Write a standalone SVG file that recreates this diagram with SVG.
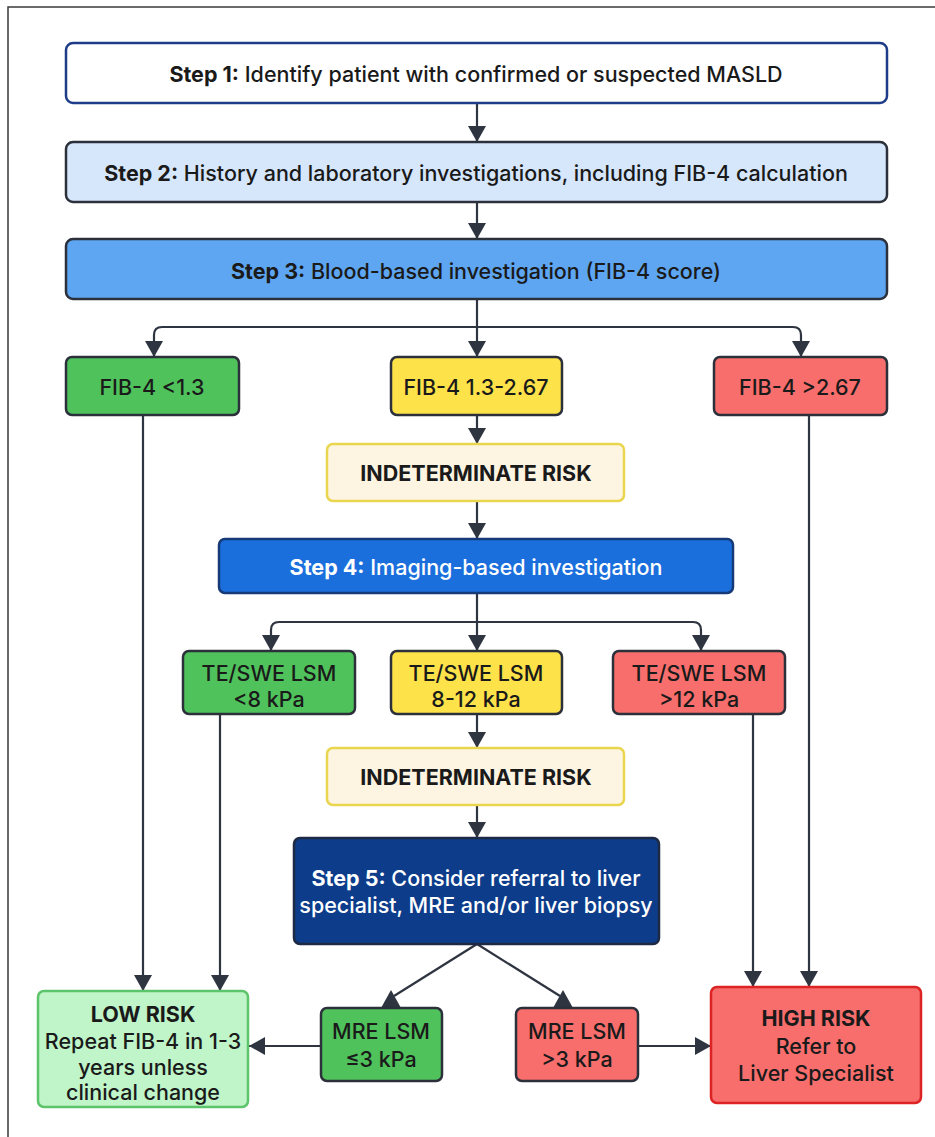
<svg xmlns="http://www.w3.org/2000/svg" width="935" height="1137" viewBox="0 0 935 1137">
<style>
  text { font-family: Inter, "Liberation Sans", Arial, sans-serif; font-size: 21.5px; font-weight: 500; fill: #1a1a1a; text-anchor: middle; dominant-baseline: central; }
  .b { font-weight: 700; }
  .w { fill: #ffffff; }
  .box { stroke: #2b303b; stroke-width: 2.5; }
  .con { fill: none; stroke: #2e3440; stroke-width: 2.2; }
  .head { fill: #2e3440; }
</style>
<defs>
  <marker id="arr" viewBox="0 0 10 10" refX="10" refY="5" markerUnits="userSpaceOnUse" markerWidth="16" markerHeight="18" orient="auto" preserveAspectRatio="none">
    <path d="M0,0 L10,5 L0,10 z" fill="#2e3440"/>
  </marker>
</defs>
<rect width="935" height="1137" fill="#ffffff"/>
<path d="M8,1137 V7 H935" fill="none" stroke="#3a3a3a" stroke-width="1.5"/>

<g id="connectors">
  <path class="con" d="M477,103 V142" marker-end="url(#arr)"/>
  <path class="con" d="M477,202 V239" marker-end="url(#arr)"/>
  <path class="con" d="M477,299 V327"/>
  <path class="con" d="M477,327 H162 Q154,327 154,335 V357" marker-end="url(#arr)"/>
  <path class="con" d="M477,327 V357" marker-end="url(#arr)"/>
  <path class="con" d="M477,327 H793 Q801,327 801,335 V357" marker-end="url(#arr)"/>
  <path class="con" d="M477,415 V444" marker-end="url(#arr)"/>
  <path class="con" d="M477,501 V539" marker-end="url(#arr)"/>
  <path class="con" d="M477,593 V622"/>
  <path class="con" d="M477,622 H279 Q271,622 271,630 V651" marker-end="url(#arr)"/>
  <path class="con" d="M477,622 V651" marker-end="url(#arr)"/>
  <path class="con" d="M477,622 H693 Q701,622 701,630 V651" marker-end="url(#arr)"/>
  <path class="con" d="M477,714 V748" marker-end="url(#arr)"/>
  <path class="con" d="M477,805 V838" marker-end="url(#arr)"/>
  <path class="con" d="M143,415 V991" marker-end="url(#arr)"/>
  <path class="con" d="M220,714 V991" marker-end="url(#arr)"/>
  <path class="con" d="M753,714 V987" marker-end="url(#arr)"/>
  <path class="con" d="M809,415 V987" marker-end="url(#arr)"/>
  <path class="con" d="M477,944 L394,996"/>
  <path class="con" d="M477,944 L560,996"/>
  <polygon class="head" points="391,990 381,1008 401,1008"/>
  <polygon class="head" points="563,990 553,1008 573,1008"/>
  <path class="con" d="M321,1046 H249" marker-end="url(#arr)"/>
  <path class="con" d="M638,1046 H711" marker-end="url(#arr)"/>
</g>

<g id="step1">
  <rect x="66" y="43" width="821" height="60" rx="7" fill="#ffffff" stroke="#1f3c88" stroke-width="2.5"/>
  <text x="476" y="74"><tspan class="b">Step 1:</tspan> Identify patient with confirmed or suspected MASLD</text>
</g>
<g id="step2">
  <rect class="box" x="66" y="142" width="821" height="60" rx="7" fill="#d6e7fc"/>
  <text x="476" y="173"><tspan class="b">Step 2:</tspan> History and laboratory investigations, including FIB-4 calculation</text>
</g>
<g id="step3">
  <rect class="box" x="66" y="239" width="821" height="60" rx="7" fill="#5ea6f2"/>
  <text x="476" y="271"><tspan class="b">Step 3:</tspan> Blood-based investigation (FIB-4 score)</text>
</g>
<g id="fib-low">
  <rect class="box" x="66" y="357" width="173" height="58" rx="6" fill="#4fc25c"/>
  <text x="152" y="387">FIB-4 &lt;1.3</text>
</g>
<g id="fib-mid">
  <rect class="box" x="391" y="357" width="171" height="58" rx="6" fill="#fde24a"/>
  <text x="476" y="387">FIB-4 1.3-2.67</text>
</g>
<g id="fib-high">
  <rect class="box" x="714" y="357" width="173" height="58" rx="6" fill="#f76e6c"/>
  <text x="800" y="387">FIB-4 &gt;2.67</text>
</g>
<g id="indet1">
  <rect x="327" y="444" width="297" height="57" rx="6" fill="#fdf5e2" stroke="#e9d54e" stroke-width="2.5"/>
  <text class="b" x="476" y="473">INDETERMINATE RISK</text>
</g>
<g id="step4">
  <rect x="219" y="539" width="514" height="54" rx="6" fill="#1b6fdd" stroke="#163a78" stroke-width="2.5"/>
  <text class="w" x="476" y="567"><tspan class="b">Step 4:</tspan> Imaging-based investigation</text>
</g>
<g id="te-low">
  <rect class="box" x="183" y="651" width="172" height="63" rx="6" fill="#4fc25c"/>
  <text x="269" y="673">TE/SWE LSM</text>
  <text x="269" y="699">&lt;8 kPa</text>
</g>
<g id="te-mid">
  <rect class="box" x="391" y="651" width="171" height="63" rx="6" fill="#fde24a"/>
  <text x="476" y="673">TE/SWE LSM</text>
  <text x="476" y="699">8-12 kPa</text>
</g>
<g id="te-high">
  <rect class="box" x="613" y="651" width="172" height="63" rx="6" fill="#f76e6c"/>
  <text x="699" y="673">TE/SWE LSM</text>
  <text x="699" y="699">&gt;12 kPa</text>
</g>
<g id="indet2">
  <rect x="327" y="748" width="297" height="57" rx="6" fill="#fdf5e2" stroke="#e9d54e" stroke-width="2.5"/>
  <text class="b" x="476" y="777">INDETERMINATE RISK</text>
</g>
<g id="step5">
  <rect x="294" y="838" width="365" height="106" rx="6" fill="#0c3c8a" stroke="#1e2a44" stroke-width="2.5"/>
  <text class="w" x="476" y="878"><tspan class="b">Step 5:</tspan> Consider referral to liver</text>
  <text class="w" x="476" y="905">specialist, MRE and/or liver biopsy</text>
</g>
<g id="mre-low">
  <rect class="box" x="321" y="1008" width="121" height="73" rx="6" fill="#4fc25c"/>
  <text x="381" y="1031">MRE LSM</text>
  <text x="381" y="1059">≤3 kPa</text>
</g>
<g id="mre-high">
  <rect class="box" x="516" y="1008" width="122" height="73" rx="6" fill="#f76e6c"/>
  <text x="577" y="1031">MRE LSM</text>
  <text x="577" y="1059">&gt;3 kPa</text>
</g>
<g id="low-risk">
  <rect x="38" y="991" width="210" height="116" rx="6" fill="#bff5c8" stroke="#5cc46a" stroke-width="2.5"/>
  <text class="b" x="143" y="1014">LOW RISK</text>
  <text x="143" y="1041">Repeat FIB-4 in 1-3</text>
  <text x="143" y="1067">years unless</text>
  <text x="143" y="1092">clinical change</text>
</g>
<g id="high-risk">
  <rect x="711" y="987" width="210" height="116" rx="6" fill="#f76e6c" stroke="#dc2424" stroke-width="2.5"/>
  <text class="b" x="816" y="1018">HIGH RISK</text>
  <text x="816" y="1046">Refer to</text>
  <text x="816" y="1073">Liver Specialist</text>
</g>
</svg>
